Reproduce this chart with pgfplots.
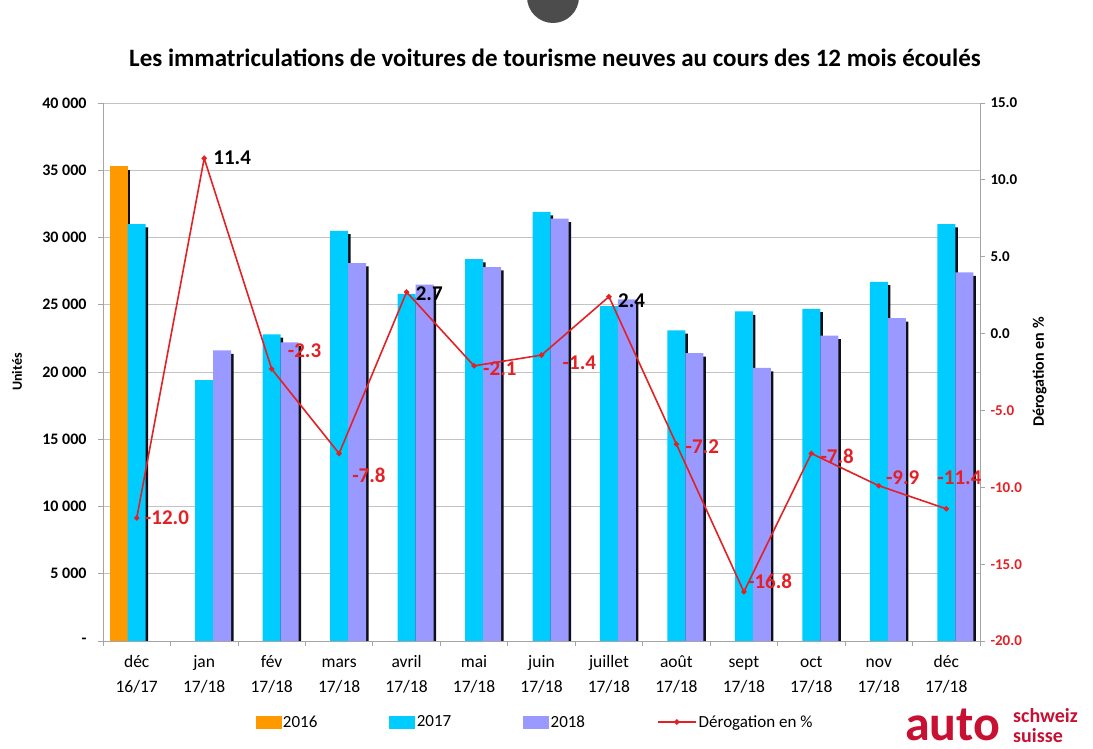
\documentclass[border=0pt]{standalone}
\usepackage{pgfplots}
\pgfplotsset{compat=1.18}
\usepackage{pgfplotstable}
\usepackage{fontspec}
\setmainfont{Carlito}
\definecolor{c16}{RGB}{255,153,0}
\definecolor{c17}{RGB}{0,204,255}
\definecolor{c18}{RGB}{153,153,255}
\definecolor{dred}{RGB}{228,32,36}
\definecolor{logored}{RGB}{200,16,50}
\definecolor{gridc}{RGB}{195,195,195}
\definecolor{axc}{RGB}{165,165,165}
\definecolor{shad}{RGB}{15,15,25}

\pgfplotstableread{
x v
0 35300
}\tabA
\pgfplotstableread{
x v
0 31000
1 19400
2 22800
3 30500
4 25800
5 28400
6 31900
7 24900
8 23100
9 24500
10 24700
11 26700
12 31000
}\tabB
\pgfplotstableread{
x v
1 21600
2 22200
3 28100
4 26500
5 27800
6 31400
7 25400
8 21400
9 20300
10 22700
11 24000
12 27400
}\tabC
\pgfplotstableread{
x d
0 -12.0
1 11.4
2 -2.3
3 -7.8
4 2.7
5 -2.1
6 -1.4
7 2.4
8 -7.2
9 -16.8
10 -7.8
11 -9.9
12 -11.4
}\tabD

\begin{document}
\begin{tikzpicture}
\path[use as bounding box] (0bp,0bp) rectangle (1093bp,749bp);
\begin{scope}
\clip (0bp,0bp) rectangle (1093bp,749bp);
\fill[black!70] (553bp,752bp) circle (26bp);
\end{scope}
\node[font=\bfseries\fontsize{25bp}{28bp}\selectfont] at (555bp,691bp)
 {Les immatriculations de voitures de tourisme neuves au cours des 12 mois écoulés};

\begin{axis}[
 width=877bp, height=538bp, scale only axis,
 at={(103bp,108bp)}, anchor=south west,
 xmin=-0.5, xmax=12.5, ymin=0, ymax=40000,
 ybar, bar width=18bp,
 axis x line*=bottom, axis y line*=left,
 axis line style={axc, line width=0.8pt, -},
 tick style={axc, line width=0.8pt},
 tick align=outside, major tick length=5bp,
 xtick={-0.5,0.5,...,12.5}, xticklabels={},
 extra x ticks={0,1,...,12},
 extra x tick labels={{\strut déc\\\strut 16/17},{\strut jan\\\strut 17/18},{\strut fév\\\strut 17/18},{\strut mars\\\strut 17/18},{\strut avril\\\strut 17/18},{\strut mai\\\strut 17/18},{\strut juin\\\strut 17/18},{\strut juillet\\\strut 17/18},{\strut août\\\strut 17/18},{\strut sept\\\strut 17/18},{\strut oct\\\strut 17/18},{\strut nov\\\strut 17/18},{\strut déc\\\strut 17/18}},
 extra x tick style={major tick length=0pt, xticklabel style={align=center, font=\fontsize{17.5bp}{25bp}\selectfont, yshift=-5bp}},
 scaled y ticks=false,
 ytick={0,5000,...,40000},
 yticklabels={-,5 000,10 000,15 000,20 000,25 000,30 000,35 000,40 000},
 yticklabel style={font=\bfseries\fontsize{16bp}{18bp}\selectfont, xshift=-8bp},
 ymajorgrids, grid style={gridc, line width=0.8pt},
 ylabel={Unités},
 ylabel style={at={(axis description cs:-0.098,0.5)}, anchor=center, font=\bfseries\fontsize{14bp}{16bp}\selectfont},
]
\addplot[fill=shad, draw=none, bar shift=-15.5bp] table[x=x, y expr=\thisrow{v}-250] {\tabA};
\addplot[fill=c16, draw=none, bar shift=-18bp] table[x=x, y=v] {\tabA};
\addplot[fill=shad, draw=none, bar shift=2.5bp] table[x=x, y expr=\thisrow{v}-250] {\tabB};
\addplot[fill=c17, draw=none, bar shift=0bp] table[x=x, y=v] {\tabB};
\addplot[fill=shad, draw=none, bar shift=20.5bp] table[x=x, y expr=\thisrow{v}-250] {\tabC};
\addplot[fill=c18, draw=none, bar shift=18bp] table[x=x, y=v] {\tabC};
\end{axis}

\begin{axis}[
 width=877bp, height=538bp, scale only axis,
 at={(103bp,108bp)}, anchor=south west,
 xmin=-0.5, xmax=12.5, ymin=-20, ymax=15,
 axis x line=none, axis y line*=right,
 axis line style={axc, line width=0.8pt, -},
 tick style={axc, line width=0.8pt},
 tick align=outside, major tick length=5bp,
 ytick={-20,-15,...,15},
 yticklabels={\textcolor{dred}{-20.0},\textcolor{dred}{-15.0},\textcolor{dred}{-10.0},\textcolor{dred}{-5.0},0.0,5.0,10.0,15.0},
 yticklabel style={font=\bfseries\fontsize{15bp}{17bp}\selectfont, xshift=2bp},
 ylabel={Dérogation en \%},
 ylabel style={at={(axis description cs:1.068,0.5)}, anchor=center, font=\bfseries\fontsize{16bp}{18bp}\selectfont},
 legend columns=4,
 legend style={at={(axis description cs:0.4926,-0.1506)}, anchor=center, draw=none, fill=none,
   font=\fontsize{17bp}{20bp}\selectfont,
   /tikz/every even column/.append style={column sep=70bp}},
 legend cell align=left,
]
\addlegendimage{legend image code/.code={\fill[c16] (0bp,-6bp) rectangle (25bp,6bp);}}
\addlegendentry{2016}
\addlegendimage{legend image code/.code={\fill[c17] (0bp,-6bp) rectangle (25bp,6bp);}}
\addlegendentry{2017}
\addlegendimage{legend image code/.code={\fill[c18] (0bp,-6bp) rectangle (25bp,6bp);}}
\addlegendentry{2018}
\addplot[dred, line width=1.6pt, mark=*, mark size=1.8bp,
  legend image code/.code={\draw[dred, line width=1.6pt] (0bp,0bp) -- (38bp,0bp); \fill[dred] (19bp,0bp) circle (1.8bp);}]
  table[x=x, y=d] {\tabD};
\addlegendentry{Dérogation en \%}
\begin{scope}[font=\bfseries\fontsize{21bp}{23bp}\selectfont, inner sep=1bp]
\node[anchor=west, text=dred] at (axis cs:0,-12.0) [xshift=7bp] {-12.0};
\node[anchor=west, text=black] at (axis cs:1,11.4) [xshift=8bp, yshift=1bp] {11.4};
\node[anchor=west, text=dred] at (axis cs:2,-2.3) [xshift=15bp, yshift=18bp] {-2.3};
\node[anchor=west, text=dred] at (axis cs:3,-7.8) [xshift=12bp, yshift=-22bp] {-7.8};
\node[anchor=west, text=black] at (axis cs:4,2.7) [xshift=8bp, yshift=-2bp] {2.7};
\node[anchor=west, text=dred] at (axis cs:5,-2.1) [xshift=8bp, yshift=-3bp] {-2.1};
\node[anchor=west, text=dred] at (axis cs:6,-1.4) [xshift=20bp, yshift=-8bp] {-1.4};
\node[anchor=west, text=black] at (axis cs:7,2.4) [xshift=8bp, yshift=-4bp] {2.4};
\node[anchor=west, text=dred] at (axis cs:8,-7.2) [xshift=8bp, yshift=-2bp] {-7.2};
\node[anchor=west, text=dred] at (axis cs:9,-16.8) [xshift=3bp, yshift=10bp] {-16.8};
\node[anchor=west, text=dred] at (axis cs:10,-7.8) [xshift=8bp, yshift=-3bp] {-7.8};
\node[anchor=west, text=dred] at (axis cs:11,-9.9) [xshift=6bp, yshift=8bp] {-9.9};
\node[anchor=west, text=dred] at (axis cs:12,-11.4) [xshift=-10bp, yshift=31bp] {-11.4};
\end{scope}
\end{axis}

\node[anchor=base west, text=logored, font=\bfseries\fontsize{50bp}{50bp}\selectfont, inner sep=0pt] at (905bp,9bp) {auto};
\node[anchor=south west, align=left, text=logored, font=\bfseries\fontsize{20bp}{20bp}\selectfont, inner sep=0pt] at (1013bp,6bp) {schweiz\\suisse};
\end{tikzpicture}
\end{document}
